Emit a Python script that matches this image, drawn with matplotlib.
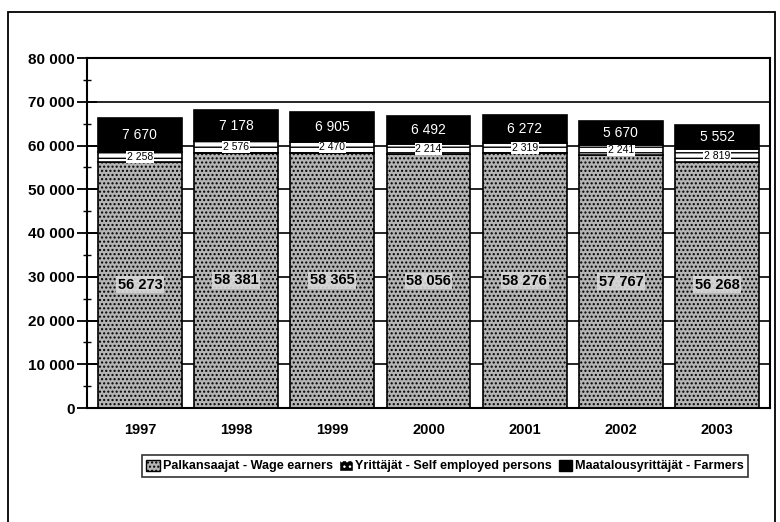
import numpy as np
import matplotlib
matplotlib.use("Agg")
import matplotlib.pyplot as plt
from matplotlib.patches import Patch, Rectangle
from matplotlib.ticker import FuncFormatter, MultipleLocator

plt.rcParams['font.family'] = ['Liberation Sans', 'DejaVu Sans']

years = ['1997', '1998', '1999', '2000', '2001', '2002', '2003']
wage_earners = [56273, 58381, 58365, 58056, 58276, 57767, 56268]
self_employed = [2258, 2576, 2470, 2214, 2319, 2241, 2819]
farmers = [7670, 7178, 6905, 6492, 6272, 5670, 5552]

labels = ['Palkansaajat - Wage earners',
          'Yrittäjät - Self employed persons',
          'Maatalousyrittäjät - Farmers']


def fmt(v):
    return f"{v:,}".replace(",", " ")


fig = plt.figure(figsize=(7.8, 5.22), dpi=100)
ax = fig.add_axes([87 / 780, 1 - 408 / 522, 683 / 780, 350 / 522])

x = np.arange(len(years))
w = 0.87
wage = np.array(wage_earners)
selfe = np.array(self_employed)
farm = np.array(farmers)

ax.bar(x, wage, w, color='#b4b4b4', edgecolor='black', hatch='....', linewidth=1.2, zorder=2)
ax.bar(x, selfe, w, bottom=wage, color='white', edgecolor='black', hatch='---', linewidth=1.2, zorder=2)
ax.bar(x, farm, w, bottom=wage + selfe, color='black', edgecolor='black', linewidth=1.2, zorder=2)

for i in x:
    ax.text(i, wage[i] / 2, fmt(wage_earners[i]), ha='center', va='center',
            fontsize=10.5, fontweight='bold', color='black', zorder=3,
            bbox=dict(facecolor='#d8d8d8', edgecolor='none', pad=1.0, alpha=0.9))
    ax.text(i, wage[i] + selfe[i] / 2, fmt(self_employed[i]), ha='center', va='center',
            fontsize=7.5, color='black', zorder=3,
            bbox=dict(facecolor='white', edgecolor='none', pad=0.5))
    ax.text(i, wage[i] + selfe[i] + farm[i] / 2, fmt(farmers[i]), ha='center', va='center',
            fontsize=10, color='white', zorder=3)

ax.set_xlim(-0.55, 6.55)
ax.set_ylim(0, 80000)
ax.set_xticks(x)
ax.set_xticklabels(years, fontsize=10.5, fontweight='bold')
ax.tick_params(axis='x', length=0, pad=11)
ax.yaxis.set_major_locator(MultipleLocator(10000))
ax.yaxis.set_minor_locator(MultipleLocator(5000))
ax.yaxis.set_major_formatter(FuncFormatter(lambda v, p: fmt(int(v))))
ax.tick_params(axis='y', which='major', direction='inout', length=14, width=1.3,
               labelsize=11, pad=2)
ax.tick_params(axis='y', which='minor', direction='inout', length=6, width=1)
for lab in ax.get_yticklabels():
    lab.set_fontweight('bold')
ax.grid(axis='y', color='black', linewidth=1.2, zorder=0)
for s in ax.spines.values():
    s.set_linewidth(1.5)

handles = [Patch(facecolor='#b4b4b4', edgecolor='black', hatch='....'),
           Patch(facecolor='black', edgecolor='white', hatch='...'),
           Patch(facecolor='black', edgecolor='black')]
leg = fig.legend(handles, labels, loc='center', bbox_to_anchor=(445 / 780, 1 - 466 / 522),
                 ncol=3, frameon=True, fancybox=False, handlelength=1.1, handleheight=1.0,
                 handletextpad=0.2, columnspacing=0.5, borderpad=0.35, borderaxespad=0,
                 prop={'family': ['Liberation Sans', 'DejaVu Sans'],
                       'weight': 'bold', 'size': 9.1})
leg.get_frame().set_edgecolor('black')
leg.get_frame().set_linewidth(1.2)

fig.patches.append(Rectangle((8 / 780, -0.02), 767 / 780, 1.02 - 12 / 522,
                             transform=fig.transFigure, fill=False,
                             edgecolor='black', linewidth=1.3))

fig.savefig('out.png', dpi=100)
